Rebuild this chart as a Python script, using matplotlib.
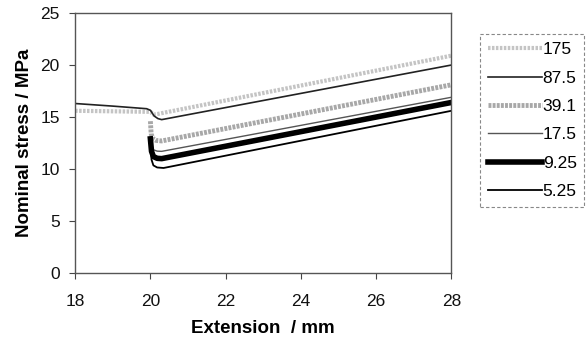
import numpy as np
import matplotlib
matplotlib.use("Agg")
import matplotlib.pyplot as plt

plt.rcParams['font.family'] = ['Liberation Sans', 'DejaVu Sans']

# strain rates (legend labels) and curves: extension / mm vs nominal stress / MPa
labels = ['175', '87.5', '39.1', '17.5', '9.25', '5.25']

x175 = [18, 19.0, 20.0, 20.08, 20.2, 28]
y175 = [15.6, 15.55, 15.5, 15.25, 15.3, 20.9]

x875 = [18, 19.0, 19.9, 20.0, 20.1, 20.2, 20.3, 28]
y875 = [16.3, 16.05, 15.8, 15.65, 15.1, 14.85, 14.75, 20.0]

x391 = [20.0, 20.02, 20.06, 20.15, 20.3, 28]
y391 = [14.6, 13.4, 12.95, 12.75, 12.7, 18.1]

x175b = [20.0, 20.03, 20.08, 20.18, 20.3, 28]
y175b = [13.0, 12.2, 11.85, 11.72, 11.7, 16.9]

x925 = [20.0, 20.03, 20.08, 20.18, 20.3, 28]
y925 = [12.9, 11.7, 11.2, 11.03, 11.0, 16.4]

x525 = [20.0, 20.03, 20.08, 20.18, 20.35, 28]
y525 = [12.5, 10.9, 10.35, 10.15, 10.1, 15.6]

fig = plt.figure(figsize=(5.87, 3.43), dpi=100)
ax = fig.add_axes([0.128, 0.204, 0.641, 0.758])

ax.plot(x175, y175, color='#c4c4c4', lw=3.0, ls=(0, (0.6, 0.35)), label=labels[0])
ax.plot(x875, y875, color='#222222', lw=1.2, label=labels[1])
ax.plot(x391, y391, color='#a8a8a8', lw=3.5, ls=(0, (0.6, 0.25)), label=labels[2])
ax.plot(x175b, y175b, color='#555555', lw=1.0, label=labels[3])
ax.plot(x925, y925, color='black', lw=4.0, label=labels[4])
ax.plot(x525, y525, color='black', lw=1.3, label=labels[5])

ax.set_xlim(18, 28)
ax.set_ylim(0, 25)
ax.set_xticks(np.arange(18, 29, 2))
ax.set_yticks(np.arange(0, 26, 5))
ax.tick_params(direction='out', length=4, width=0.8, colors='#444444',
               labelsize=12.5, labelcolor='#111111')
ax.tick_params(axis='x', pad=11)
ax.tick_params(axis='y', pad=7)
for s in ax.spines.values():
    s.set_color('#555555')
    s.set_linewidth(1.0)

ax.set_xlabel('Extension  / mm', fontsize=13.5, fontweight='bold', labelpad=8)
ax.set_ylabel('Nominal stress / MPa', fontsize=13.5, fontweight='bold', labelpad=5)

leg = fig.legend(loc='upper left', bbox_to_anchor=(0.818, 0.9), fontsize=12.5,
                 handlelength=3.1, handletextpad=0.05, labelspacing=0.76,
                 borderpad=0.45, borderaxespad=0.0, fancybox=False, framealpha=1)
leg.get_frame().set_edgecolor('#888888')
leg.get_frame().set_linestyle((0, (3, 2)))
leg.get_frame().set_linewidth(0.8)

fig.savefig('out.png', dpi=100)
